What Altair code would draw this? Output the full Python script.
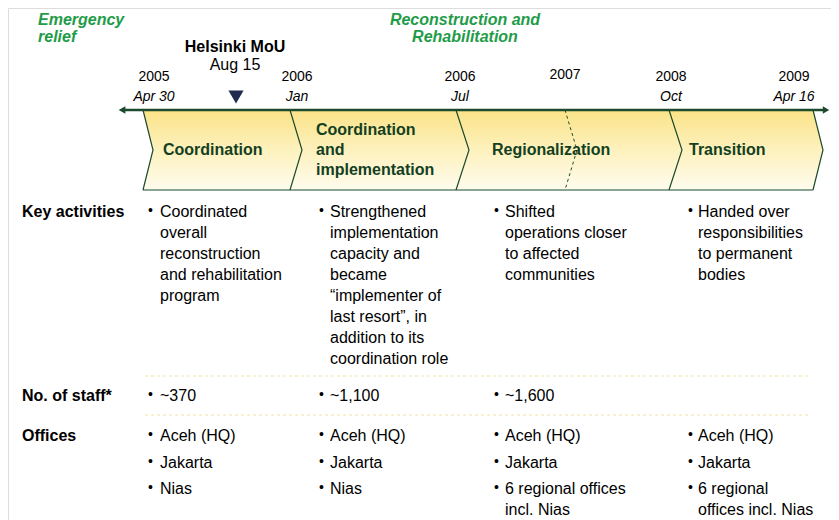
import altair as alt
import pandas as pd

FONT = "Liberation Sans"
GREEN = "#1f9c48"
DARK = "#123f22"
LINE = "#1b4a2d"

# ---- data ----
headings = [("Emergency\nrelief", "left"), ("Reconstruction and\nRehabilitation", "center")]
milestone = ["Helsinki MoU", "Aug 15"]
years = ["2005", "2006", "2006", "2007", "2008", "2009"]
months = ["Apr 30", "Jan", "Jul", "", "Oct", "Apr 16"]
phases = ["Coordination", "Coordination\nand\nimplementation", "Regionalization", "Transition"]
row_labels = ["Key activities", "No. of staff*", "Offices"]
activities = [
    ["Coordinated", "overall", "reconstruction", "and rehabilitation", "program"],
    ["Strengthened", "implementation", "capacity and", "became", "“implementer of",
     "last resort”, in", "addition to its", "coordination role"],
    ["Shifted", "operations closer", "to affected", "communities"],
    ["Handed over", "responsibilities", "to permanent", "bodies"],
]
staff = ["~370", "~1,100", "~1,600", ""]
offices = [
    [["Aceh (HQ)"], ["Jakarta"], ["Nias"]],
    [["Aceh (HQ)"], ["Jakarta"], ["Nias"]],
    [["Aceh (HQ)"], ["Jakarta"], ["6 regional offices", "incl. Nias"]],
    [["Aceh (HQ)"], ["Jakarta"], ["6 regional", "offices incl. Nias"]],
]

# ---- layout ----
date_x = [154, 297, 460, 565, 671, 794]
bound_x = [143, 290, 456, 669, 813]
bound_dx = [10, 12, 13, 13, 10]
dash_x = 565
col_bullet = [148, 319, 494, 688]
col_text = [160, 330, 505, 698]
AX_Y, MID_Y, BOT_Y = 110, 150, 190

X = alt.X("x:Q", scale=alt.Scale(domain=[8, 831]), axis=None)
Y = alt.Y("y:Q", scale=alt.Scale(domain=[8, 520], reverse=True), axis=None)


def text_layer(rows, size, weight="normal", style="normal", color="#000000", align="left"):
    df = pd.DataFrame(rows, columns=["x", "y", "text"])
    return alt.Chart(df).mark_text(
        align=align, baseline="middle", font=FONT, fontSize=size,
        fontWeight=weight, fontStyle=style, color=color,
    ).encode(x=X, y=Y, text="text:N")


layers = []

# chevron band
band = pd.DataFrame({
    "y": [AX_Y, MID_Y, BOT_Y],
    "x": [bound_x[0], bound_x[0] + bound_dx[0], bound_x[0]],
    "x2": [bound_x[-1], bound_x[-1] + bound_dx[-1], bound_x[-1]],
})
grad = alt.Gradient(gradient="linear", x1=0, x2=0, y1=0, y2=1,
                    stops=[alt.GradientStop(color="#fbe388", offset=0),
                           alt.GradientStop(color="#fdf1bd", offset=0.5),
                           alt.GradientStop(color="#fffcee", offset=1)])
layers.append(alt.Chart(band).mark_area(orient="horizontal", color=grad).encode(
    y=Y, x=X, x2="x2:Q"))

# boundaries
brows = []
for i, (bx, dx) in enumerate(zip(bound_x, bound_dx)):
    for k, (yy, off) in enumerate([(AX_Y, 0), (MID_Y, dx), (BOT_Y, 0)]):
        brows.append({"b": i, "o": k, "x": bx + off, "y": yy})
layers.append(alt.Chart(pd.DataFrame(brows)).mark_line(color=LINE, strokeWidth=1.2).encode(
    x=X, y=Y, detail="b:N", order="o:Q"))
drows = [{"o": 0, "x": dash_x, "y": AX_Y}, {"o": 1, "x": dash_x + 12, "y": MID_Y},
         {"o": 2, "x": dash_x, "y": BOT_Y}]
layers.append(alt.Chart(pd.DataFrame(drows)).mark_line(
    color=LINE, strokeWidth=1, strokeDash=[3, 3]).encode(x=X, y=Y, order="o:Q"))
# bottom edge
layers.append(alt.Chart(pd.DataFrame({"x": [bound_x[0]], "x2": [bound_x[-1]], "y": [BOT_Y]}))
              .mark_rule(color=LINE, strokeWidth=1.2).encode(x=X, x2="x2:Q", y=Y))

# axis line + arrows
layers.append(alt.Chart(pd.DataFrame({"x": [122], "x2": [825], "y": [AX_Y]}))
              .mark_rule(color=LINE, strokeWidth=2.5).encode(x=X, x2="x2:Q", y=Y))
layers.append(alt.Chart(pd.DataFrame({"x": [122], "y": [AX_Y]})).mark_point(
    shape="triangle-left", filled=True, size=60, color=LINE, opacity=1).encode(x=X, y=Y))
layers.append(alt.Chart(pd.DataFrame({"x": [826], "y": [AX_Y]})).mark_point(
    shape="triangle-right", filled=True, size=55, color=LINE, opacity=1).encode(x=X, y=Y))

# milestone marker
layers.append(alt.Chart(pd.DataFrame({"x": [236], "y": [97]})).mark_point(
    shape="triangle-down", filled=True, size=230, color="#1e2a4e", opacity=1).encode(x=X, y=Y))

# dotted separators
for yy in [376, 415]:
    layers.append(alt.Chart(pd.DataFrame({"x": [145], "x2": [808], "y": [yy]}))
                  .mark_rule(color="#f1e2a6", strokeWidth=1.2, strokeDash=[3, 3])
                  .encode(x=X, x2="x2:Q", y=Y))

# headings
h_rows_l = [(38, 20 + 17 * i, t) for i, t in enumerate(headings[0][0].split("\n"))]
h_rows_c = [(465, 20 + 17 * i, t) for i, t in enumerate(headings[1][0].split("\n"))]
layers.append(text_layer(h_rows_l, 16, "bold", "italic", GREEN, "left"))
layers.append(text_layer(h_rows_c, 16, "bold", "italic", GREEN, "center"))

# milestone text
layers.append(text_layer([(235, 47, milestone[0])], 16, "bold", align="center"))
layers.append(text_layer([(235, 65, milestone[1])], 16, align="center"))

# dates
layers.append(text_layer([(x, 77 if y != "2007" else 75, y) for x, y in zip(date_x, years)], 14, align="center"))
layers.append(text_layer([(x, 97, m) for x, m in zip(date_x, months) if m], 14, style="italic", align="center"))

# phase labels
ph_x = [163, 316, 492, 689]
ph_rows = []
for px, ph in zip(ph_x, phases):
    lines = ph.split("\n")
    y0 = MID_Y - 20 * (len(lines) - 1) / 2
    for i, ln in enumerate(lines):
        ph_rows.append((px, y0 + 20 * i, ln))
layers.append(text_layer(ph_rows, 16, "bold", color=DARK))

# row labels
layers.append(text_layer([(22, 212, row_labels[0]), (22, 396, row_labels[1]), (22, 436, row_labels[2])],
                         16, "bold"))

# body text
bullets = []
body = []
LH = 21
for c, acts in enumerate(activities):
    bullets.append((col_bullet[c], 211, "•"))
    for i, ln in enumerate(acts):
        body.append((col_text[c], 212 + LH * i, ln))
for c, s in enumerate(staff):
    if s:
        bullets.append((col_bullet[c], 395, "•"))
        body.append((col_text[c], 396, s))
for c, offs in enumerate(offices):
    for j, lines in enumerate(offs):
        yy = 436 + 26.5 * j
        bullets.append((col_bullet[c], yy - 1, "•"))
        for i, ln in enumerate(lines):
            body.append((col_text[c], yy + LH * i, ln))
layers.append(text_layer(bullets, 14))
layers.append(text_layer(body, 16))

chart = alt.layer(*layers).properties(
    width=823, height=512, padding=0, autosize=alt.AutoSizeParams(type="none")
).configure_view(stroke=None).configure(background="white")

chart.save("out.html", embed_options={"renderer": "svg", "actions": False})
